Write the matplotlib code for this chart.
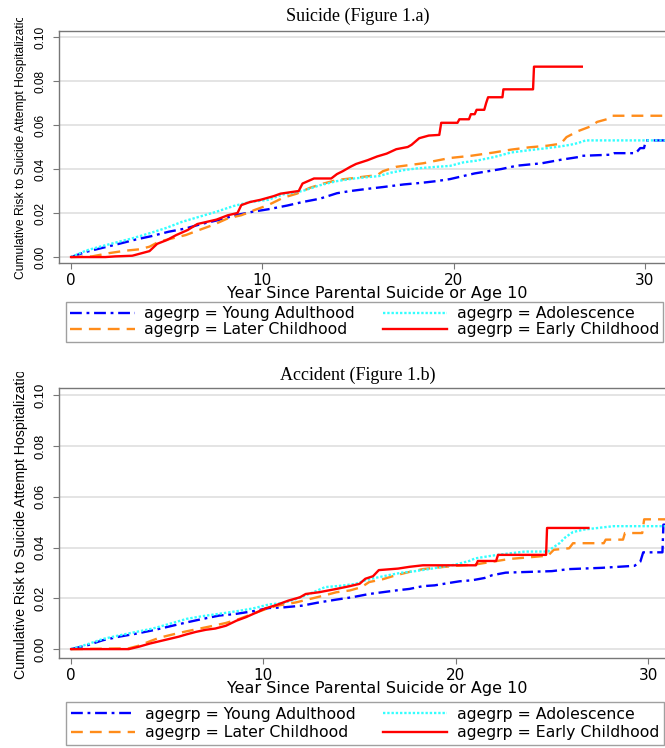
import matplotlib
matplotlib.use("Agg")
import matplotlib.pyplot as plt
from matplotlib.transforms import Bbox

# ---- values (corner points of the cumulative risk curves) ----
groups = ["Young Adulthood", "Later Childhood", "Adolescence", "Early Childhood"]

# Figure 1.a  Suicide
sui_young_x = [0, 0.8, 1.65, 2.5, 3.4, 4.2, 5.1, 6.0, 6.8, 7.7, 8.6, 9.5, 10.3, 11.3, 12.1,
               13.0, 13.9, 14.6, 15.5, 16.3, 17.4, 18.3, 19.1, 19.8, 20.5, 21.1, 21.8, 22.5,
               23.3, 24.6, 25.6, 26.5, 26.7, 28.2, 28.4, 29.5, 29.6, 29.75, 29.95, 30.05, 32]
sui_young_y = [0, 0.0024, 0.0042, 0.006, 0.008, 0.0095, 0.0115, 0.013, 0.015, 0.0168, 0.019,
               0.0206, 0.0217, 0.0234, 0.025, 0.0265, 0.029, 0.030, 0.031, 0.0318, 0.033,
               0.0337, 0.0345, 0.0354, 0.0368, 0.038, 0.039, 0.040, 0.0415, 0.0426, 0.0442,
               0.0454, 0.046, 0.0465, 0.0472, 0.0472, 0.048, 0.0495, 0.0495, 0.053, 0.053]
sui_later_x = [0, 1.1, 2.0, 2.85, 3.55, 4.1, 4.6, 5.3, 6.0, 6.7, 7.4, 8.2, 8.9, 9.6, 10.3,
               11.1, 11.8, 12.5, 13.2, 13.9, 14.6, 15.3, 16.0, 16.3, 17.0, 17.7, 18.4, 19.1,
               19.8, 20.9, 22.1, 23.0, 23.9, 24.9, 25.6, 25.9, 26.5, 27.2, 27.5, 28.0, 28.3, 32]
sui_later_y = [0, 0.0003, 0.0018, 0.0029, 0.0035, 0.0047, 0.007, 0.0085, 0.010, 0.0123,
               0.0145, 0.0176, 0.019, 0.0214, 0.0236, 0.027, 0.0288, 0.0315, 0.0334, 0.035,
               0.0357, 0.0365, 0.0372, 0.039, 0.041, 0.0418, 0.0426, 0.0438, 0.045, 0.046,
               0.0475, 0.0488, 0.0498, 0.0506, 0.0515, 0.0545, 0.0572, 0.0595, 0.0614,
               0.0626, 0.0642, 0.0642]
sui_adol_x = [0, 0.8, 1.5, 2.3, 3.2, 4.1, 5.0, 5.8, 6.7, 7.6, 8.5, 9.35, 10.3, 11.1, 12.1,
              13.0, 13.9, 14.8, 16.1, 16.7, 17.4, 18.1, 19.1, 19.8, 20.5, 21.2, 22.1, 23.0,
              23.9, 24.9, 25.6, 26.1, 26.5, 26.9, 32]
sui_adol_y = [0, 0.003, 0.0047, 0.0065, 0.0085, 0.0108, 0.0133, 0.016, 0.0183, 0.0206,
              0.0232, 0.025, 0.026, 0.0285, 0.030, 0.0326, 0.0345, 0.0357, 0.0368, 0.0383,
              0.0395, 0.0403, 0.041, 0.0414, 0.043, 0.0438, 0.0454, 0.0475, 0.0485, 0.0495,
              0.0503, 0.051, 0.0518, 0.053, 0.053]
sui_early_x = [0, 1.8, 2.3, 3.2, 4.1, 4.5, 5.0, 5.5, 6.1, 6.6, 7.1, 7.6, 8.2, 8.7, 8.9, 9.35,
               9.9, 10.6, 10.95, 11.5, 11.9, 12.1, 12.7, 13.6, 13.9, 14.2, 14.6, 14.9, 15.5,
               16.0, 16.5, 17.0, 17.6, 17.8, 18.2, 18.7, 19.25, 19.35, 20.2, 20.3, 20.8, 20.9,
               21.1, 21.2, 21.6, 21.7, 21.8, 22.55, 22.6, 24.15, 24.2, 26.7]
sui_early_y = [0, 0, 0.0003, 0.0006, 0.0027, 0.006, 0.0077, 0.010, 0.0123, 0.015, 0.016,
               0.017, 0.019, 0.020, 0.0236, 0.025, 0.026, 0.0277, 0.0288, 0.0295, 0.030,
               0.0334, 0.0357, 0.0357, 0.0377, 0.039, 0.041, 0.0423, 0.044, 0.0457, 0.047,
               0.049, 0.050, 0.051, 0.054, 0.0552, 0.0555, 0.061, 0.061, 0.0626, 0.0626,
               0.0649, 0.0649, 0.0669, 0.0669, 0.070, 0.0726, 0.0726, 0.0762, 0.0762, 0.0865,
               0.0865]

# Figure 1.b  Accident
acc_young_x = [0, 0.8, 1.65, 2.5, 3.4, 4.25, 5.1, 6.0, 6.85, 7.7, 8.6, 9.45, 10.3, 11.0,
               12.0, 12.9, 13.8, 14.6, 15.5, 16.2, 16.9, 17.6, 18.3, 18.9, 19.7, 20.2, 20.85,
               21.5, 21.9, 22.6, 25.0, 25.9, 27.6, 29.3, 29.6, 29.75, 30.75, 30.8, 32]
acc_young_y = [0, 0.0014, 0.0035, 0.0049, 0.0061, 0.0074, 0.0089, 0.0105, 0.0119, 0.0132,
               0.0139, 0.0149, 0.0162, 0.0164, 0.0171, 0.0184, 0.0195, 0.0204, 0.0217,
               0.0224, 0.0231, 0.0237, 0.0248, 0.0251, 0.0261, 0.0267, 0.0271, 0.028, 0.0291,
               0.0301, 0.0307, 0.0315, 0.032, 0.0328, 0.0344, 0.0381, 0.0381, 0.049, 0.049]
acc_later_x = [0, 3.0, 3.55, 4.1, 4.6, 5.3, 6.0, 6.7, 7.4, 8.05, 8.75, 9.45, 10.1, 10.65,
               11.7, 12.4, 13.1, 13.8, 14.5, 15.1, 15.5, 16.2, 16.9, 17.6, 18.3, 18.9, 20.0,
               21.0, 21.9, 22.8, 23.6, 24.8, 25.1, 25.9, 26.1, 27.7, 27.8, 28.7, 28.8, 29.7,
               29.8, 32]
acc_later_y = [0, 0.0003, 0.0014, 0.0031, 0.0045, 0.0058, 0.007, 0.0081, 0.0092, 0.0103,
               0.0119, 0.0139, 0.0157, 0.017, 0.0184, 0.0197, 0.021, 0.0224, 0.0231, 0.0244,
               0.0264, 0.0275, 0.0291, 0.0304, 0.0315, 0.032, 0.0328, 0.0333, 0.0344, 0.0355,
               0.036, 0.0368, 0.0391, 0.0397, 0.0417, 0.0417, 0.0431, 0.0431, 0.0457, 0.0457,
               0.0511, 0.0511]
acc_adol_x = [0, 0.8, 1.65, 2.5, 3.4, 4.25, 5.1, 6.0, 6.85, 7.7, 8.6, 9.45, 10.3, 11.0, 11.7,
              12.6, 13.2, 14.1, 14.8, 15.3, 15.8, 16.5, 17.2, 17.9, 18.6, 19.3, 20.0, 20.7,
              21.0, 21.9, 22.8, 23.6, 24.8, 25.0, 25.4, 25.7, 26.1, 26.7, 28.2, 32]
acc_adol_y = [0, 0.0018, 0.004, 0.0054, 0.0068, 0.0081, 0.0099, 0.0119, 0.013, 0.0139,
              0.0149, 0.016, 0.0176, 0.0181, 0.0197, 0.0224, 0.0244, 0.025, 0.0257, 0.0271,
              0.028, 0.0291, 0.0301, 0.0307, 0.0315, 0.0324, 0.0333, 0.0347, 0.0357, 0.0368,
              0.0377, 0.0384, 0.0384, 0.0397, 0.0417, 0.044, 0.0461, 0.0471, 0.0484, 0.0484]
acc_early_x = [0, 3.0, 3.55, 4.1, 4.6, 5.1, 5.6, 6.0, 6.5, 7.0, 7.5, 8.05, 8.6, 9.1, 9.6,
               10.1, 10.65, 11.3, 11.9, 12.2, 12.9, 13.8, 14.5, 15.0, 15.3, 15.7, 16.0, 17.0,
               17.6, 18.3, 21.05, 21.15, 22.1, 22.2, 24.7, 24.75, 26.9]
acc_early_y = [0, 0, 0.001, 0.0022, 0.0031, 0.004, 0.0049, 0.0058, 0.0068, 0.0076, 0.0081,
               0.0092, 0.0112, 0.0126, 0.0143, 0.016, 0.0173, 0.0191, 0.0204, 0.0217, 0.0224,
               0.0237, 0.0248, 0.0257, 0.0277, 0.0287, 0.0311, 0.0317, 0.0324, 0.0330, 0.0330,
               0.0347, 0.0347, 0.0371, 0.0371, 0.0477, 0.0477]

titles = ["Suicide (Figure 1.a)", "Accident (Figure 1.b)"]
panel_series = [
    [(sui_young_x, sui_young_y), (sui_later_x, sui_later_y),
     (sui_adol_x, sui_adol_y), (sui_early_x, sui_early_y)],
    [(acc_young_x, acc_young_y), (acc_later_x, acc_later_y),
     (acc_adol_x, acc_adol_y), (acc_early_x, acc_early_y)],
]
xticks = [0, 10, 20, 30]
yticks = [0.00, 0.02, 0.04, 0.06, 0.08, 0.10]
xlabel = "Year Since Parental Suicide or Age 10"
ylabel = "Cumulative Risk to Suicide Attempt Hospitalization"

colors = ["#0000ff", "#ff8c1a", "#33ffff", "#ff0000"]
styles = [(0, (5, 2, 1.2, 2)), (0, (5, 3)), (0, (1, 0.8)), "-"]

W, H = 665, 748
fig = plt.figure(figsize=(W / 100, H / 100), dpi=100)
sans = ["Liberation Sans", "DejaVu Sans"]
wide = ["DejaVu Sans"]
serif = ["Liberation Serif", "DejaVu Serif"]

# layout in reference pixels, one dict per panel (the lower panel is a bit taller)
layout = [
    dict(left=59, top=31, bot=263, ppy=19.13, ylim=(-0.0027, 0.1027), ytick_fs=8.6,
         ylab_fs=8.7, ylab_bot=279, ylab_top=18, title_y=25, leg_top=302,
         leg_pad=0.28, leg_space=0.05),
    dict(left=59, top=388, bot=658, ppy=19.23, ylim=(-0.0035, 0.1028), ytick_fs=9.4,
         ylab_fs=10.2, ylab_bot=679, ylab_top=372, title_y=384, leg_top=702,
         leg_pad=0.3, leg_space=0.24),
]
xl_left = -0.63

for title, series, L in zip(titles, panel_series, layout):
    x_right = xl_left + (W + 30 - L["left"]) / L["ppy"]
    ax = fig.add_axes([L["left"] / W, 1 - L["bot"] / H,
                       (W + 30 - L["left"]) / W, (L["bot"] - L["top"]) / H])
    ax.set_xlim(xl_left, x_right)
    ax.set_ylim(*L["ylim"])
    handles = []
    for (xs, ys), c, ls, g in zip(series, colors, styles, groups):
        h, = ax.plot(xs, ys, color=c, linestyle=ls, lw=1.7, label="agegrp = " + g)
        handles.append(h)
    ax.set_xticks(xticks)
    ax.set_yticks(yticks)
    ax.set_yticklabels(["%.2f" % v for v in yticks], rotation=90, va="center",
                       family=sans, fontsize=L["ytick_fs"])
    ax.set_xticklabels([str(v) for v in xticks], family=wide, fontsize=11)
    ax.tick_params(axis="both", direction="out", length=4, color="#777777")
    ax.tick_params(axis="y", pad=5)
    ax.tick_params(axis="x", pad=3)
    ax.grid(axis="y", color="#e2e2e2", lw=1.3)
    ax.set_axisbelow(True)
    for s in ax.spines.values():
        s.set_color("#777777")
        s.set_linewidth(1.0)
    ax.set_xlabel(xlabel, family=wide, fontsize=11.5, labelpad=-1)

    fig.text(358 / W, 1 - L["title_y"] / H, title, family=serif, fontsize=13,
             ha="center", va="bottom")
    yl = fig.text(21 / W, 1 - L["ylab_bot"] / H, ylabel, family=sans,
                  fontsize=L["ylab_fs"], rotation=90, ha="center", va="bottom")
    yl.set_clip_box(Bbox.from_extents(0, 0, W, H - L["ylab_top"]))
    yl.set_clip_on(True)

    leg = fig.legend(handles, [h.get_label() for h in handles], loc="upper left",
                     bbox_to_anchor=(66 / W, 1 - L["leg_top"] / H), ncol=2, frameon=True,
                     fancybox=False, edgecolor="#888888",
                     prop={"family": wide, "size": 11.3},
                     handlelength=4.1, columnspacing=1.75, borderpad=L["leg_pad"],
                     labelspacing=L["leg_space"], handletextpad=0.62, borderaxespad=0)
    leg.get_frame().set_linewidth(1.0)

fig.savefig("out.png", dpi=100)
